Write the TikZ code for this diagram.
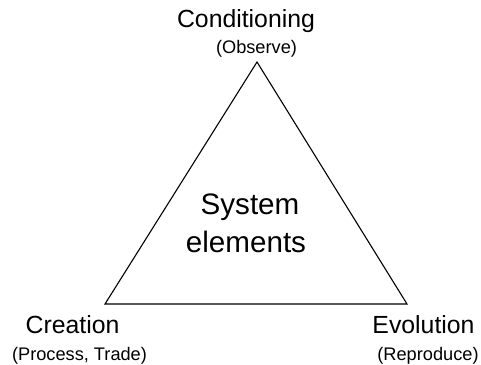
\documentclass[tikz,border=0pt]{standalone}
\usepackage{fontspec}
\setmainfont{Liberation Sans}
\tikzset{
    cornername/.style={anchor=base, inner sep=0pt, font=\fontsize{24.8bp}{28bp}\selectfont},
    cornernote/.style={anchor=base, inner sep=0pt, font=\fontsize{18.2bp}{21bp}\selectfont},
    middletext/.style={anchor=base, inner sep=0pt, font=\fontsize{29.6bp}{34bp}\selectfont}
}
\begin{document}
\begin{tikzpicture}[x=1bp, y=1bp]
        \useasboundingbox (0,0) rectangle (481,364);

        \coordinate (top) at (257,302);
        \coordinate (left) at (105,60);
        \coordinate (right) at (407,60);
        \draw[black, line width=1.1pt, line join=miter] (top) -- (left) -- (right) -- cycle;

        \node[cornername] (cond) at (246,337) {Conditioning};
        \node[cornernote] (obs) at (256.5,311) {(Observe)};
        \node[cornername] (crea) at (72.5,31) {Creation};
        \node[cornernote] (proc) at (79.5,4) {(Process, Trade)};
        \node[cornername] (evol) at (423.5,31) {Evolution};
        \node[cornernote] (repr) at (428,4) {(Reproduce)};

        \node[middletext] (sys) at (250,150) {System};
        \node[middletext] (elem) at (246,112) {elements};
    \end{tikzpicture}
\end{document}
